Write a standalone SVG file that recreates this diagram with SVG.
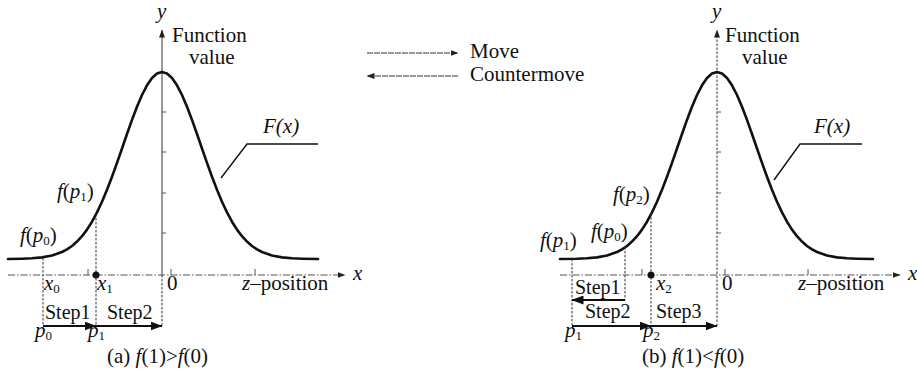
<svg xmlns="http://www.w3.org/2000/svg" width="917" height="377" viewBox="0 0 917 377">
<defs>
<style>
.t{font-family:"Liberation Serif","Times New Roman",serif;font-size:21px;fill:#111}
.st{font-size:20px}
.i{font-style:italic}
.s{font-size:13px}
.curve{fill:none;stroke:#111;stroke-width:2.6;stroke-linejoin:round;stroke-linecap:round}
.axis{fill:none;stroke:#444;stroke-width:1.1}
.xaxis{fill:none;stroke:#555;stroke-width:1.1;stroke-dasharray:7 2 1.5 2}
.dash{fill:none;stroke:#333;stroke-width:1;stroke-dasharray:2.5 1.5}
.tick{fill:none;stroke:#555;stroke-width:1}
.step{fill:none;stroke:#111;stroke-width:1.8}
.leg{fill:none;stroke:#333;stroke-width:1;stroke-dasharray:6 1}
.lead{fill:none;stroke:#111;stroke-width:1.4}
</style>
<marker id="big" viewBox="0 0 12 9" refX="11.5" refY="4.5" markerWidth="12" markerHeight="9" markerUnits="userSpaceOnUse" orient="auto"><path d="M0,0 L12,4.5 L0,9 z" fill="#111"/></marker>
<marker id="small" viewBox="0 0 8 6" refX="7.5" refY="3" markerWidth="8" markerHeight="6" markerUnits="userSpaceOnUse" orient="auto"><path d="M0,0 L8,3 L0,6 z" fill="#222"/></marker>
</defs>
<rect width="917" height="377" fill="#fff"/>

<g id="legend">
<line class="leg" x1="367" y1="53" x2="458" y2="53" marker-end="url(#small)"/>
<line class="leg" x1="458" y1="76" x2="367" y2="76" marker-end="url(#small)"/>
<text class="t" x="470" y="58">Move</text>
<text class="t" x="470" y="81">Countermove</text>
</g>

<g id="panel-a">
<g id="a-axes">
<line class="axis" x1="162" y1="275" x2="162" y2="30" marker-end="url(#small)"/>
<line class="xaxis" x1="8" y1="275" x2="345" y2="275" marker-end="url(#small)"/>
<path class="tick" d="M162,112h4M162,152h4M162,193h4M162,233h4M88,269v6M171,269v6M255,269v6"/>
<text class="t i" x="157" y="18">y</text>
<text class="t i" x="353" y="280">x</text>
<text class="t" x="172" y="42">Function</text>
<text class="t" x="189" y="64">value</text>
</g>
<path id="a-curve" class="curve" d="M8,259 L22,258.7 L32,258.3 L42,257.4 L52,255.5 L62,252 L67,249.4 L72,246 L77,241.6 L82,236.2 L87,229.6 L92,221.7 L97,212.4 L102,201.7 L107,189.8 L112,176.8 L117,162.9 L122,148.5 L127,134 L132,119.9 L137,106.7 L142,95 L147,85.3 L152,78 L157,73.5 L162,72 L167,73.5 L172,78 L177,85.3 L182,95 L187,106.7 L192,119.9 L197,134 L202,148.5 L207,162.9 L212,176.8 L217,189.8 L222,201.7 L227,212.4 L232,221.7 L237,229.6 L242,236.2 L247,241.6 L252,246 L257,249.4 L262,252 L272,255.5 L282,257.4 L292,258.3 L302,258.7 L318,259"/>
<g id="a-Flabel">
<polyline class="lead" points="221,178 247,144 318,144"/>
<text class="t i" x="263" y="133">F(x)</text>
</g>
<g id="a-guides">
<line class="dash" x1="43" y1="258" x2="43" y2="326"/>
<line class="dash" x1="96" y1="214" x2="96" y2="326"/>
<line class="dash" x1="162" y1="275" x2="162" y2="326"/>
<circle cx="96" cy="275" r="3.5" fill="#111"/>
</g>
<g id="a-steps">
<line class="step" x1="43" y1="326" x2="96" y2="326" marker-end="url(#big)"/>
<line class="step" x1="96" y1="326" x2="162" y2="326" marker-end="url(#big)"/>
<text class="t st" x="45" y="319">Step1</text>
<text class="t st" x="107" y="319">Step2</text>
</g>
<g id="a-labels">
<text class="t" x="57" y="198"><tspan class="i">f</tspan>(<tspan class="i">p</tspan><tspan class="s" dy="3">1</tspan><tspan dy="-3">)</tspan></text>
<text class="t" x="20" y="242"><tspan class="i">f</tspan>(<tspan class="i">p</tspan><tspan class="s" dy="3">0</tspan><tspan dy="-3">)</tspan></text>
<text class="t" x="44" y="290"><tspan class="i">x</tspan><tspan class="s" dy="3">0</tspan></text>
<text class="t" x="97" y="290"><tspan class="i">x</tspan><tspan class="s" dy="3">1</tspan></text>
<text class="t" x="167" y="290">0</text>
<text class="t" x="242" y="290"><tspan class="i">z</tspan>–position</text>
<text class="t" x="35" y="337"><tspan class="i">p</tspan><tspan class="s" dy="3">0</tspan></text>
<text class="t" x="88" y="337"><tspan class="i">p</tspan><tspan class="s" dy="3">1</tspan></text>
<text class="t" x="107" y="363">(a) <tspan class="i">f</tspan>(1)&gt;<tspan class="i">f</tspan>(0)</text>
</g>
</g>

<g id="panel-b">
<g id="b-axes">
<line class="dash" x1="717" y1="326" x2="717" y2="30" marker-end="url(#small)"/>
<line class="xaxis" x1="560" y1="275" x2="900" y2="275" marker-end="url(#small)"/>
<path class="tick" d="M717,112h4M717,152h4M717,193h4M717,233h4M642,269v6M725,269v6M808,269v6"/>
<text class="t i" x="712" y="18">y</text>
<text class="t i" x="908" y="280">x</text>
<text class="t" x="725" y="42">Function</text>
<text class="t" x="742" y="64">value</text>
</g>
<path id="b-curve" class="curve" d="M560,259 L577,258.7 L587,258.3 L597,257.4 L607,255.5 L617,252 L622,249.4 L627,246 L632,241.6 L637,236.2 L642,229.6 L647,221.7 L652,212.4 L657,201.7 L662,189.8 L667,176.8 L672,162.9 L677,148.5 L682,134 L687,119.9 L692,106.7 L697,95 L702,85.3 L707,78 L712,73.5 L717,72 L722,73.5 L727,78 L732,85.3 L737,95 L742,106.7 L747,119.9 L752,134 L757,148.5 L762,162.9 L767,176.8 L772,189.8 L777,201.7 L782,212.4 L787,221.7 L792,229.6 L797,236.2 L802,241.6 L807,246 L812,249.4 L817,252 L827,255.5 L837,257.4 L847,258.3 L857,258.7 L873,259"/>
<g id="b-Flabel">
<polyline class="lead" points="774,180 800,144 862,144"/>
<text class="t i" x="814" y="133">F(x)</text>
</g>
<g id="b-guides">
<line class="dash" x1="572" y1="259" x2="572" y2="326"/>
<line class="dash" x1="625" y1="247" x2="625" y2="300"/>
<line class="dash" x1="651" y1="213" x2="651" y2="326"/>
<circle cx="651" cy="275" r="3.5" fill="#111"/>
</g>
<g id="b-steps">
<line class="step" x1="625" y1="300" x2="572" y2="300" marker-end="url(#big)"/>
<line class="step" x1="572" y1="326" x2="651" y2="326" marker-end="url(#big)"/>
<line class="step" x1="651" y1="326" x2="717" y2="326" marker-end="url(#big)"/>
<text class="t st" x="575" y="294">Step1</text>
<text class="t st" x="585" y="318">Step2</text>
<text class="t st" x="656" y="318">Step3</text>
</g>
<g id="b-labels">
<text class="t" x="613" y="201"><tspan class="i">f</tspan>(<tspan class="i">p</tspan><tspan class="s" dy="3">2</tspan><tspan dy="-3">)</tspan></text>
<text class="t" x="591" y="238"><tspan class="i">f</tspan>(<tspan class="i">p</tspan><tspan class="s" dy="3">0</tspan><tspan dy="-3">)</tspan></text>
<text class="t" x="540" y="247"><tspan class="i">f</tspan>(<tspan class="i">p</tspan><tspan class="s" dy="3">1</tspan><tspan dy="-3">)</tspan></text>
<text class="t" x="656" y="290"><tspan class="i">x</tspan><tspan class="s" dy="3">2</tspan></text>
<text class="t" x="722" y="290">0</text>
<text class="t" x="798" y="290"><tspan class="i">z</tspan>–position</text>
<text class="t" x="565" y="337"><tspan class="i">p</tspan><tspan class="s" dy="3">1</tspan></text>
<text class="t" x="643" y="337"><tspan class="i">p</tspan><tspan class="s" dy="3">2</tspan></text>
<text class="t" x="642" y="363">(b) <tspan class="i">f</tspan>(1)&lt;<tspan class="i">f</tspan>(0)</text>
</g>
</g>
</svg>
